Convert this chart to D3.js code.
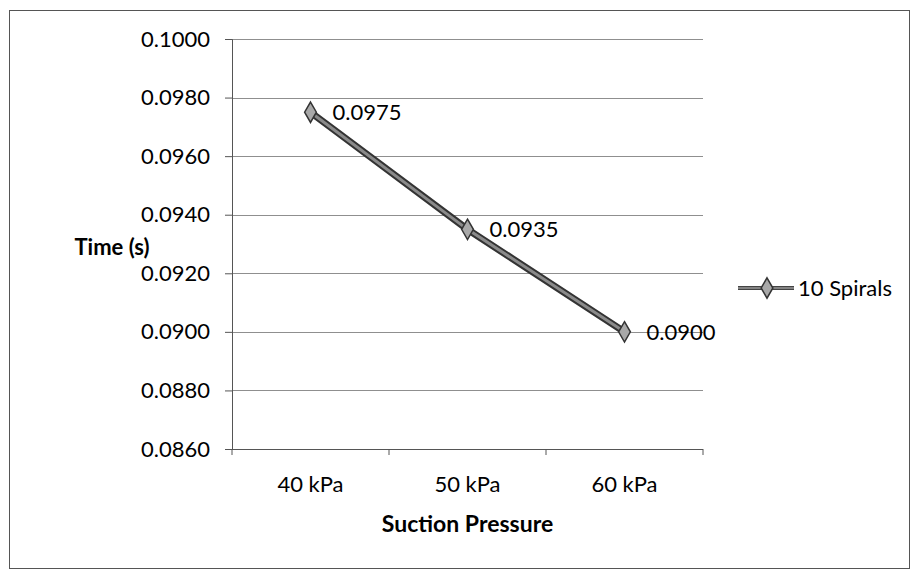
<!DOCTYPE html>
<html>
<head>
<meta charset="utf-8">
<script src="https://cdn.jsdelivr.net/npm/d3@7"></script>
<style>
  html, body { margin: 0; padding: 0; background: #fff; }
  svg { display: block; font-family: Lato, "Open Sans", sans-serif; }
</style>
</head>
<body>
<svg id="chart" width="911" height="571"></svg>
<script>
// Suction pressure vs. time, single series
const categories = ["40 kPa", "50 kPa", "60 kPa"];
const seriesName = "10 Spirals";
const timeValues = [0.0975, 0.0935, 0.0900];
const yTicks = [0.0860, 0.0880, 0.0900, 0.0920, 0.0940, 0.0960, 0.0980, 0.1000];

const svg = d3.select("#chart");
const plot = { left: 232, right: 703, top: 39, bottom: 449 };

// outer chart border
svg.append("rect")
  .attr("x", 9.5).attr("y", 10.5)
  .attr("width", 900).attr("height", 558)
  .attr("fill", "#fff").attr("stroke", "#555").attr("stroke-width", 1);

const x = d3.scaleBand().domain(categories).range([plot.left, plot.right]).padding(0);
const y = d3.scaleLinear().domain([0.0860, 0.1000]).range([plot.bottom, plot.top]);

// horizontal gridlines
svg.append("g").selectAll("line").data(yTicks.filter(t => t > 0.0860)).join("line")
  .attr("x1", plot.left).attr("x2", plot.right)
  .attr("y1", d => Math.round(y(d)) + 0.5).attr("y2", d => Math.round(y(d)) + 0.5)
  .attr("stroke", "#8f8f8f").attr("stroke-width", 1);

// y axis
const yAxis = svg.append("g")
  .attr("transform", `translate(${plot.left},0)`)
  .call(d3.axisLeft(y).tickValues(yTicks).tickFormat(d3.format(".4f")).tickSize(7).tickPadding(15));
yAxis.select(".domain").attr("stroke", "#555");
yAxis.selectAll(".tick line").attr("stroke", "#555");
yAxis.selectAll("text").attr("font-size", 22).attr("fill", "#000").attr("font-family", "Lato, sans-serif");

// x axis with category boundary ticks
const xAxisG = svg.append("g").attr("transform", `translate(0,${plot.bottom})`);
xAxisG.append("line")
  .attr("x1", plot.left).attr("x2", plot.right).attr("y1", 0.5).attr("y2", 0.5)
  .attr("stroke", "#555");
const bounds = categories.map(c => x(c)).concat([x(categories[categories.length - 1]) + x.bandwidth()]);
xAxisG.selectAll("line.bt").data(bounds).join("line").attr("class", "bt")
  .attr("x1", d => d).attr("x2", d => d).attr("y1", 0).attr("y2", 6)
  .attr("stroke", "#555");
xAxisG.selectAll("text").data(categories).join("text")
  .attr("x", d => x(d) + x.bandwidth() / 2)
  .attr("y", 43)
  .attr("text-anchor", "middle")
  .attr("font-size", 22).attr("fill", "#000")
  .text(d => d);

// axis titles
svg.append("text")
  .attr("x", 112).attr("y", 255)
  .attr("text-anchor", "middle").attr("font-weight", "bold")
  .attr("font-size", 22).attr("fill", "#000")
  .text("Time (s)");
svg.append("text")
  .attr("x", (plot.left + plot.right) / 2).attr("y", 532)
  .attr("text-anchor", "middle").attr("font-weight", "bold")
  .attr("font-size", 23).attr("fill", "#000")
  .text("Suction Pressure");

// series line: dark outline with lighter core
const pts = categories.map((c, i) => [x(c) + x.bandwidth() / 2, y(timeValues[i])]);
const line = d3.line();
svg.append("path").attr("d", line(pts))
  .attr("fill", "none").attr("stroke", "#333").attr("stroke-width", 7);
svg.append("path").attr("d", line(pts))
  .attr("fill", "none").attr("stroke", "#8a8a8a").attr("stroke-width", 3);

const diamond = d3.symbol().type(d3.symbolDiamond).size(120);
svg.append("g").selectAll("path").data(pts).join("path")
  .attr("transform", d => `translate(${d[0]},${d[1]})`)
  .attr("d", diamond)
  .attr("fill", "#a8a8a8").attr("stroke", "#333").attr("stroke-width", 1.5);

// data labels
svg.append("g").selectAll("text").data(pts).join("text")
  .attr("x", d => d[0] + 22).attr("y", d => d[1] + 8)
  .attr("font-size", 22).attr("fill", "#000")
  .text((d, i) => d3.format(".4f")(timeValues[i]));

// legend
const lg = svg.append("g").attr("transform", "translate(738,288)");
lg.append("line").attr("x1", 0).attr("x2", 56).attr("y1", 0).attr("y2", 0)
  .attr("stroke", "#444").attr("stroke-width", 4);
lg.append("line").attr("x1", 0).attr("x2", 56).attr("y1", 0).attr("y2", 0)
  .attr("stroke", "#999").attr("stroke-width", 1.5);
lg.append("path").attr("transform", "translate(29,0)").attr("d", diamond)
  .attr("fill", "#a8a8a8").attr("stroke", "#333").attr("stroke-width", 1.5);
lg.append("text").attr("x", 60).attr("y", 8)
  .attr("font-size", 22).attr("fill", "#000")
  .text(seriesName);
</script>
</body>
</html>
